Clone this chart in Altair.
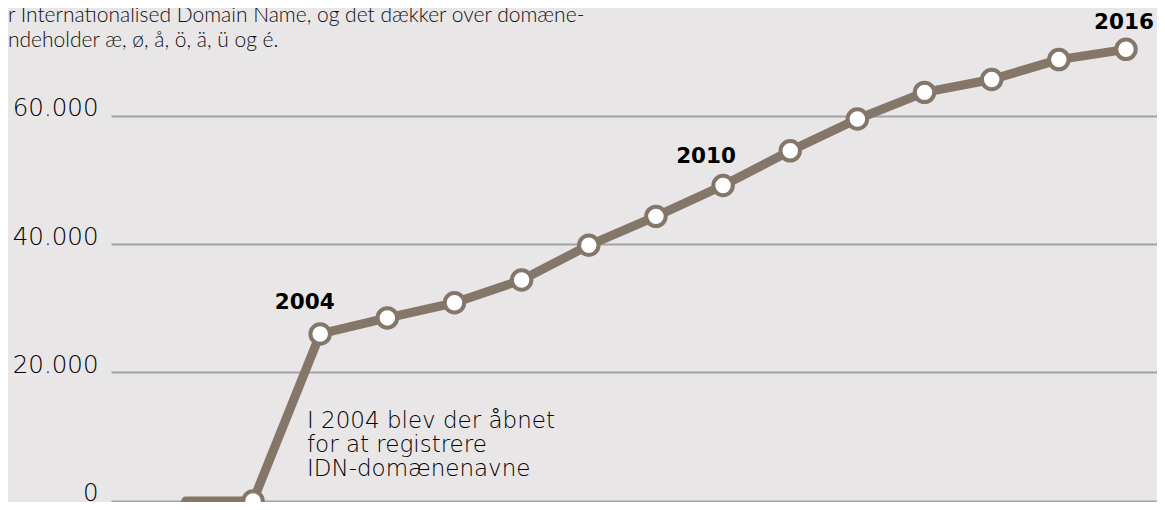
import altair as alt
import pandas as pd

years = [2002, 2003, 2004, 2005, 2006, 2007, 2008, 2009, 2010, 2011, 2012, 2013, 2014, 2015, 2016]
domains = [0, 0, 26000, 28500, 30850, 34400, 39800, 44300, 49100, 54500, 59450, 63600, 65600, 68700, 70300]
marker_years = years[1:]
label_years = [2004, 2010, 2016]
y_ticks = [0, 20000, 40000, 60000]
intro_lines = ["r Internationalised Domain Name, og det dækker over domæne-",
               "ndeholder æ, ø, å, ö, ä, ü og é."]
note_lines = ["I 2004 blev der åbnet", "for at registrere", "IDN-domænenavne"]

df = pd.DataFrame({"year": years, "value": domains})
df["marker"] = df["year"].isin(marker_years)
df["label"] = df["year"].astype(str)

FONT = "Lato"
WIDE = "DejaVu Sans"
LINE = "#85766a"
TXT = "#000000"

xs = alt.Scale(domain=[2000.885, 2016.4617], nice=False, zero=False)
ys = alt.Scale(domain=[-156, 76732], nice=False, zero=False)

x = alt.X("year:Q", scale=xs, axis=None)
y = alt.Y("value:Q", scale=ys, axis=alt.Axis(
    values=y_ticks, grid=True, gridColor="#a3a3a3", gridWidth=2, domain=False,
    ticks=False, labelPadding=13, labelFont=WIDE, labelFontSize=24.5, labelFontWeight=200,
    labelColor=TXT, labelBaseline="alphabetic",
    labelExpr="replace(format(datum.value, ','), ',', '.')",
    title=None))

base = alt.Chart(df)

line = base.mark_line(color=LINE, strokeWidth=9, strokeCap="round", strokeJoin="round").encode(x=x, y=y)
points = base.transform_filter("datum.marker").mark_point(
    shape="circle", size=380, filled=True, fill="white", stroke=LINE, strokeWidth=4, opacity=1
).encode(x=x, y=y)

def year_label(yr, dx, dy):
    return base.transform_filter(f"datum.year == {yr}").mark_text(
        font=WIDE, fontSize=21.5, fontWeight="bold", color="#000000",
        align="center", baseline="alphabetic", dx=dx, dy=dy
    ).encode(x=x, y=y, text="label:N")

labels = (year_label(label_years[0], -15.5, -25)
          + year_label(label_years[1], -17, -23)
          + year_label(label_years[2], -2, -20))

intro = alt.Chart(pd.DataFrame({"t": [0]})).mark_text(
    text=intro_lines, font=FONT, fontSize=21, fontWeight=300, color="#111111", align="left",
    baseline="alphabetic", lineHeight=25
).encode(x=alt.value(-103), y=alt.value(14))

note = alt.Chart(pd.DataFrame({"t": [0]})).mark_text(
    text=note_lines, font=WIDE, fontSize=23, fontWeight=200, color=TXT, align="left",
    baseline="alphabetic", lineHeight=24
).encode(x=alt.value(196), y=alt.value(420))

chart = alt.layer(line, points, labels, intro, note).properties(
    width=1046, height=494,
    autosize=alt.AutoSizeParams(type="none"),
    padding={"left": 103, "top": 0, "right": 0, "bottom": 0},
    background="#e8e6e7",
).configure_view(stroke=None)

chart.save("out.html", embed_options={"renderer": "svg", "actions": False})
